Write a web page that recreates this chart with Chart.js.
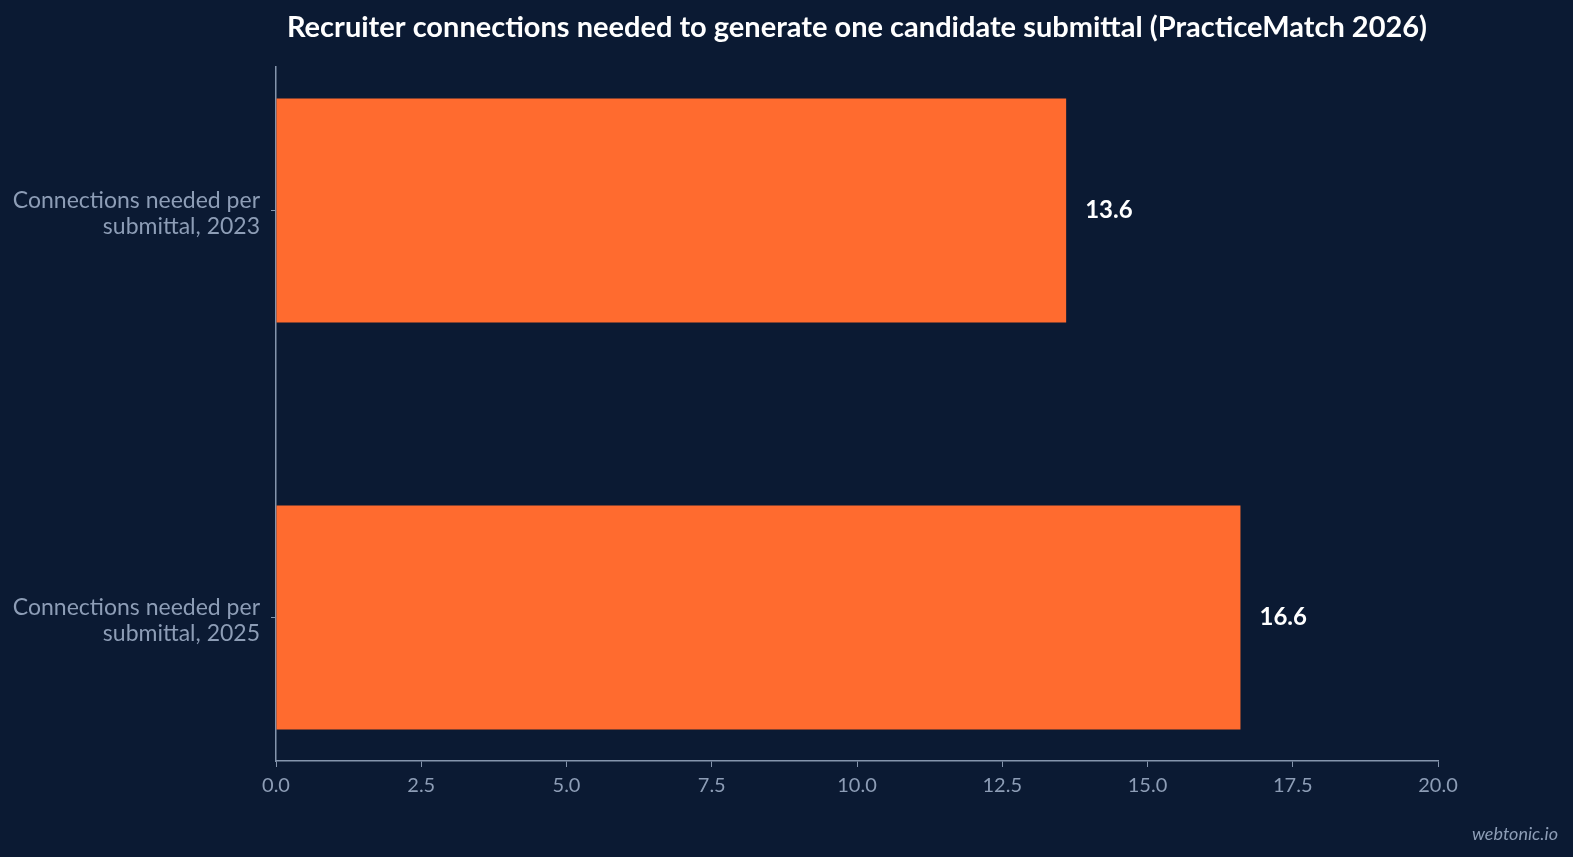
<!DOCTYPE html>
<html>
<head>
<meta charset="utf-8">
<title>Recruiter connections per submittal</title>
<script src="https://cdn.jsdelivr.net/npm/chart.js@4.4.1/dist/chart.umd.min.js"></script>
<style>
    html, body { margin: 0; padding: 0; background: #0b1a33; overflow: hidden; }
    #chart { display: block; }
</style>
</head>
<body>
<canvas id="chart" width="1573" height="857"></canvas>
<script>
// Data
const categories = [
    ['Connections needed per', 'submittal, 2023'],
    ['Connections needed per', 'submittal, 2025']
];
const values = [13.6, 16.6];
const xTicks = [0, 2.5, 5, 7.5, 10, 12.5, 15, 17.5, 20];
const titleText = 'Recruiter connections needed to generate one candidate submittal (PracticeMatch 2026)';

const bg = '#0b1a33';
const axisColor = '#8595ad';
const tickColor = '#8d9db6';
const barColor = '#ff6b2f';

// Value labels at the end of each bar
const valueLabels = {
    id: 'valueLabels',
    afterDatasetsDraw(chart) {
        const ctx = chart.ctx;
        const meta = chart.getDatasetMeta(0);
        ctx.save();
        ctx.font = 'bold 24px Lato';
        ctx.fillStyle = '#ffffff';
        ctx.textAlign = 'left';
        ctx.textBaseline = 'middle';
        meta.data.forEach((bar, i) => {
            ctx.fillText(values[i].toFixed(1), bar.x + 19, bar.y);
        });
        ctx.restore();
    }
};

// Background, title centred over the plot, watermark
const decor = {
    id: 'decor',
    beforeDraw(chart) {
        const ctx = chart.ctx;
        ctx.save();
        ctx.fillStyle = bg;
        ctx.fillRect(0, 0, chart.width, chart.height);
        ctx.restore();
    },
    afterDraw(chart) {
        const ctx = chart.ctx;
        const area = chart.chartArea;
        ctx.save();
        ctx.font = 'bold 29px Lato';
        ctx.fillStyle = '#ffffff';
        ctx.textAlign = 'center';
        ctx.textBaseline = 'middle';
        ctx.fillText(titleText, (area.left + area.right) / 2, 28);

        ctx.font = 'italic 18px Lato';
        ctx.fillStyle = '#8d9db6';
        ctx.textAlign = 'right';
        ctx.fillText('webtonic.io', chart.width - 15, 834);
        ctx.restore();
    }
};

new Chart(document.getElementById('chart'), {
    type: 'bar',
    data: {
        datasets: [{
            data: values.map((v, i) => ({ x: v, y: i })),
            backgroundColor: barColor,
            borderWidth: 0,
            categoryPercentage: 1,
            barPercentage: 0.55
        }]
    },
    options: {
        indexAxis: 'y',
        responsive: false,
        animation: false,
        devicePixelRatio: 1,
        layout: {
            padding: { left: 0, right: 135, top: 67, bottom: 46 }
        },
        plugins: {
            legend: { display: false },
            tooltip: { enabled: false },
            title: { display: false }
        },
        scales: {
            x: {
                type: 'linear',
                min: 0,
                max: 20,
                afterBuildTicks(scale) {
                    scale.ticks = xTicks.map(v => ({ value: v }));
                },
                afterFit(scale) {
                    scale.height = 50;
                },
                grid: {
                    drawOnChartArea: false,
                    drawTicks: true,
                    tickLength: 6,
                    color: axisColor
                },
                border: { display: true, color: axisColor, width: 1.5 },
                ticks: {
                    color: tickColor,
                    font: { family: 'Lato', size: 20 },
                    padding: 7,
                    maxRotation: 0,
                    callback: v => Number(v).toFixed(1)
                }
            },
            y: {
                type: 'linear',
                min: -0.3525,
                max: 1.3525,
                reverse: true,
                offset: false,
                afterBuildTicks(scale) {
                    scale.ticks = categories.map((c, i) => ({ value: i }));
                },
                afterFit(scale) {
                    scale.width = 276;
                },
                grid: {
                    offset: false,
                    drawOnChartArea: false,
                    drawTicks: true,
                    tickLength: 5,
                    color: axisColor
                },
                border: { display: true, color: axisColor, width: 1.5 },
                ticks: {
                    color: tickColor,
                    font: { family: 'Lato', size: 23, lineHeight: 1.15 },
                    padding: 11,
                    labelOffset: 3,
                    callback: (v, i) => categories[i]
                }
            }
        }
    },
    plugins: [decor, valueLabels]
});
</script>
</body>
</html>
